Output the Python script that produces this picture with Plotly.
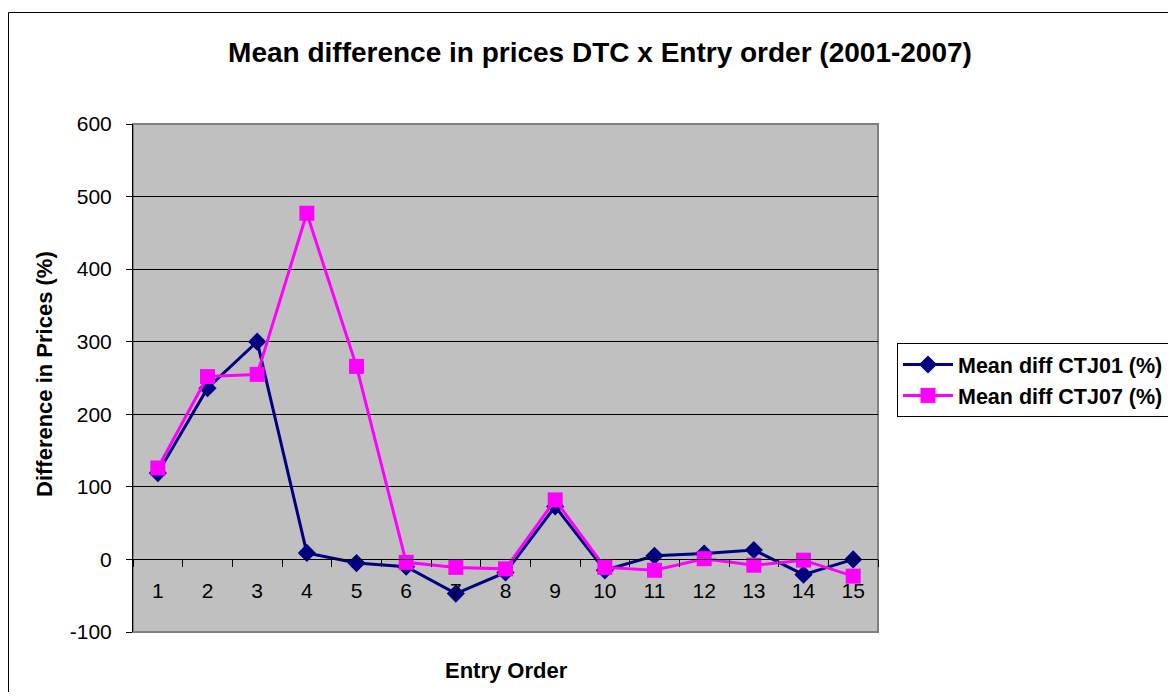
import plotly.graph_objects as go

entry_order = [str(i) for i in range(1, 16)]
ctj01 = [119, 236, 300, 9, -5, -10, -47, -18, 73, -15, 5, 8, 13, -21, 0]
ctj07 = [126, 252, 255, 477, 266, -4, -11, -13, 82, -11, -15, 1, -8, -1, -23]
y_ticks = [-100, 0, 100, 200, 300, 400, 500, 600]

# page body has an 8px margin: figure coords = reference coords - 8
OFF = 8
W, H = 1176 - OFF, 700 - 2 * OFF
L, R, T, B = 133 - OFF, 878 - OFF, 124 - OFF, 632 - OFF
FONT = "Liberation Sans, Arial, sans-serif"

def px(x):
    return (x - OFF - L) / (R - L)

def py(y):
    return (B - (y - OFF)) / (B - T)

fig = go.Figure()
fig.add_trace(go.Scatter(
    x=entry_order, y=ctj01, name="Mean diff CTJ01 (%)", mode="lines+markers",
    line=dict(color="#000080", width=3),
    marker=dict(symbol="diamond", size=14, color="#000080"),
))
fig.add_trace(go.Scatter(
    x=entry_order, y=ctj07, name="Mean diff CTJ07 (%)", mode="lines+markers",
    line=dict(color="#FF00FF", width=3),
    marker=dict(symbol="square", size=15, color="#FF00FF"),
))

fig.update_layout(
    width=W, height=H,
    margin=dict(l=L, r=W - R, t=T, b=H - B, pad=0, autoexpand=False),
    paper_bgcolor="white", plot_bgcolor="#C0C0C0",
    font=dict(family=FONT, size=21, color="black"),
    title=dict(text="<b>Mean difference in prices DTC x Entry order (2001-2007)</b>",
               x=px(600), xanchor="center", y=1 - (52 - OFF) / H, yanchor="middle",
               xref="paper", yref="container",
               font=dict(size=28, family=FONT, color="black")),
    showlegend=True,
    legend=dict(x=(897 - OFF) / W, y=1 - (343 - OFF) / H, xref="container", yref="container",
                xanchor="left", yanchor="top",
                bgcolor="white", bordercolor="black", borderwidth=1,
                font=dict(size=21.5, family=FONT, color="black", weight="bold"),
                tracegroupgap=0, itemwidth=50),
    xaxis=dict(type="category", anchor="free", position=1 / 7,
               showline=True, linecolor="black", linewidth=1,
               ticks="outside", tickson="boundaries", ticklen=7, tickcolor="black",
               showgrid=False, zeroline=False, ticklabelstandoff=12,
               tickfont=dict(size=21, family=FONT),
               range=[-0.5, 14.5]),
    yaxis=dict(range=[-100, 600], tickvals=y_ticks, ticktext=[str(v) for v in y_ticks],
               showline=True, linecolor="black",
               linewidth=1, ticks="outside", ticklen=6, tickcolor="black",
               showgrid=True, gridcolor="black", gridwidth=1, zeroline=False,
               ticklabelstandoff=10,
               tickfont=dict(size=21, family=FONT)),
)

# plot area border in gray
fig.add_shape(type="rect", xref="paper", yref="paper", x0=0, x1=1, y0=0, y1=1,
              line=dict(color="#808080", width=2), layer="below")
# outer chart border
fig.add_shape(type="rect", xref="paper", yref="paper",
              x0=px(8.5), x1=px(1200), y0=py(720), y1=py(12.5),
              line=dict(color="black", width=1))

fig.add_annotation(text="<b>Entry Order</b>", xref="paper", yref="paper",
                   x=px(506), y=py(670), showarrow=False, yanchor="middle",
                   font=dict(size=22, family=FONT, color="black"))
fig.add_annotation(text="<b>Difference in Prices (%)</b>", xref="paper", yref="paper",
                   x=px(44), y=py(374), showarrow=False, textangle=-90,
                   xanchor="center", yanchor="middle",
                   font=dict(size=22, family=FONT, color="black"))

fig.write_html("out.html")
